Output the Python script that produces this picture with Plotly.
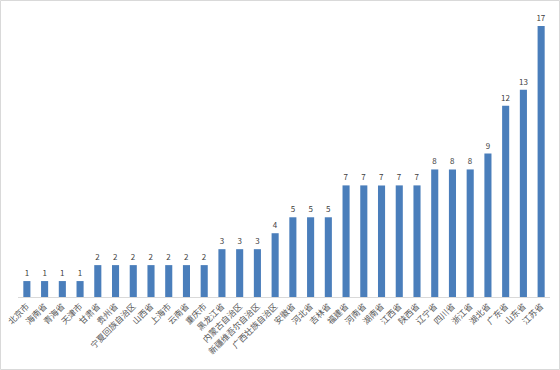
import plotly.graph_objects as go

provinces = ["北京市", "海南省", "青海省", "天津市", "甘肃省", "贵州省", "宁夏回族自治区", "山西省",
             "上海市", "云南省", "重庆市", "黑龙江省", "内蒙古自治区", "新疆维吾尔自治区", "广西壮族自治区",
             "安徽省", "河北省", "吉林省", "福建省", "河南省", "湖南省", "江西省", "陕西省", "辽宁省",
             "四川省", "浙江省", "湖北省", "广东省", "山东省", "江苏省"]
counts = [1, 1, 1, 1, 2, 2, 2, 2, 2, 2, 2, 3, 3, 3, 4, 5, 5, 5, 7, 7, 7, 7, 7, 8, 8, 8, 9, 12, 13, 17]

W, H = 560, 370
L, R, T, B = 18, 10, 10, 73
pw, ph = W - L - R, H - T - B

fig = go.Figure(go.Bar(
    x=provinces, y=counts,
    marker=dict(color="#4a7ebb", line=dict(width=0)),
    width=0.4,
    text=counts, textposition="outside", cliponaxis=False,
    constraintext="none",
    textfont=dict(size=8, color="#404040", family="Noto Sans CJK SC"),
))

fig.update_layout(
    width=W, height=H,
    margin=dict(l=L, r=R, t=T, b=B, autoexpand=False),
    paper_bgcolor="white", plot_bgcolor="white",
    showlegend=False,
    font=dict(family="Noto Sans CJK SC", color="#595959"),
    xaxis=dict(tickangle=-45, tickfont=dict(size=8.5, color="#595959"),
               showline=True, linecolor="#d9d9d9", linewidth=1, ticks="",
               showgrid=False, automargin=False),
    yaxis=dict(range=[0, 18], visible=False, showgrid=False, automargin=False),
    shapes=[dict(type="rect", xref="paper", yref="paper",
                 x0=(-L + 0.5) / pw, x1=1 + (R - 0.5) / pw,
                 y0=(-B + 0.5) / ph, y1=1 + (T - 0.5) / ph,
                 line=dict(color="#d9d9d9", width=1))],
)

fig.write_html("out.html", config={"displayModeBar": False},
               post_script="document.body.style.margin='0';document.body.style.overflow='hidden';")
